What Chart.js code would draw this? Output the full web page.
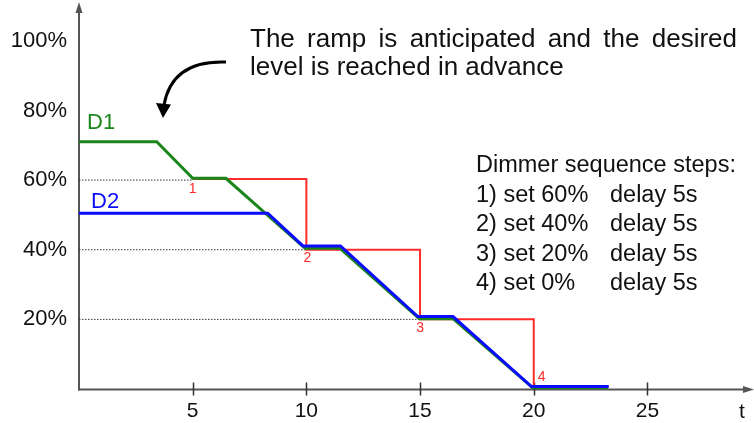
<!DOCTYPE html>
<html><head><meta charset="utf-8">
<script src="https://cdn.jsdelivr.net/npm/chart.js@4/dist/chart.umd.min.js"></script>
<style>html,body{margin:0;padding:0;background:#fff;overflow:hidden}#wrap{width:754px;height:423px}</style>
</head><body><div id="wrap"><canvas id="c" width="754" height="423"></canvas></div>
<script>
const xTickValues=[5,10,15,20,25];
const yTickValues=[20,40,60,80,100];
const d1X=[0,3.42,5,6.46,9.94,11.48,14.97,16.45,20,23.26];
const d1Y=[71,71,60.5,60.5,40.4,40.4,20.2,20.2,0.1,0.1];
const d2X=[0,8.3,9.85,11.5,14.9,16.45,19.9,23.3];
const d2Y=[50.5,50.5,41.1,41.1,20.8,20.8,0.7,0.7];
const setX=[5,10,10,15,15,20,20];
const setY=[60.3,60.3,40,40,20,20,0];
const guideLevels=[60,40,20];
const guideEnds=[5,10,15];
const stepLabels=['1','2','3','4'];
const stepX=[5,10,15,20];
const stepY=[60,40,20,0];
const seriesNames=['D1','D2'];
const noteLines=['The ramp is anticipated and the desired','level is reached in advance'];
const legendTitle='Dimmer sequence steps:';
const legendSet=['1) set 60%','2) set 40%','3) set 20%','4) set 0%'];
const legendDelay=['delay 5s','delay 5s','delay 5s','delay 5s'];
const axisLabelX='t';

const FONT='"Liberation Sans", Arial, sans-serif';
const GREEN='#1a861a', BLUE='#0b0bff', RED='#ff2a2a', AX='#555';
const pts=(xs,ys)=>xs.map((x,i)=>({x,y:ys[i]}));

const datasets=[
 {label:seriesNames[1],data:pts(d2X,d2Y),borderColor:BLUE,borderWidth:3},
 {label:seriesNames[0],data:pts(d1X,d1Y),borderColor:GREEN,borderWidth:3},
 {label:'setpoint',data:pts(setX,setY),borderColor:RED,borderWidth:2}
];
guideLevels.forEach((lv,i)=>datasets.push({label:'g'+lv,data:[{x:0,y:lv},{x:guideEnds[i],y:lv}],borderColor:'#333',borderWidth:1,borderDash:[1.5,1.5]}));
datasets.forEach(d=>{d.showLine=true;d.pointRadius=0;d.tension=0;d.fill=false;d.borderCapStyle='butt';d.borderJoinStyle='miter';});

const deco={id:'deco',
 beforeDatasetsDraw(chart){
  const {ctx,scales:{x,y}}=chart;
  const x0=x.getPixelForValue(0), y0=y.getPixelForValue(0)+0.5;
  ctx.save();
  ctx.strokeStyle=AX; ctx.fillStyle=AX; ctx.lineWidth=2;
  ctx.beginPath(); ctx.moveTo(x0,y0+1); ctx.lineTo(x0,12); ctx.stroke();
  ctx.beginPath(); ctx.moveTo(x0,2); ctx.lineTo(x0-3.5,13); ctx.lineTo(x0+3.5,13); ctx.closePath(); ctx.fill();
  ctx.beginPath(); ctx.moveTo(x0-1,y0); ctx.lineTo(744,y0); ctx.stroke();
  ctx.beginPath(); ctx.moveTo(754,y0); ctx.lineTo(743,y0-3.5); ctx.lineTo(743,y0+3.5); ctx.closePath(); ctx.fill();
  ctx.lineWidth=1.5; ctx.strokeStyle='#333';
  xTickValues.forEach(v=>{const p=Math.round(x.getPixelForValue(v))+0.5; ctx.beginPath(); ctx.moveTo(p,y0-7); ctx.lineTo(p,y0+6); ctx.stroke();});
  ctx.restore();
 },
 afterDraw(chart){
  const {ctx,scales:{x,y}}=chart;
  ctx.save();
  ctx.textBaseline='alphabetic'; ctx.textAlign='left';
  ctx.fillStyle='#111'; ctx.font='21px '+FONT; ctx.fillText(axisLabelX,739,418);
  ctx.font='22px '+FONT;
  ctx.fillStyle=GREEN; ctx.fillText(seriesNames[0],87,129);
  ctx.fillStyle=BLUE; ctx.fillText(seriesNames[1],91,208);
  ctx.font='14px '+FONT; ctx.fillStyle=RED; ctx.textAlign='center'; ctx.textBaseline='middle';
  const off=[[0,9],[1,8],[0,9],[8,-12]];
  stepLabels.forEach((s,i)=>ctx.fillText(s,x.getPixelForValue(stepX[i])+off[i][0],y.getPixelForValue(stepY[i])+off[i][1]));
  ctx.textBaseline='alphabetic'; ctx.textAlign='left'; ctx.fillStyle='#111';
  ctx.font='26px '+FONT;
  const L=250,R=737;
  const words=noteLines[0].split(' ');
  const ww=words.map(w=>ctx.measureText(w).width);
  const gap=(R-L-ww.reduce((a,b)=>a+b,0))/(words.length-1);
  let cx=L; words.forEach((w,i)=>{ctx.fillText(w,cx,47);cx+=ww[i]+gap;});
  ctx.fillText(noteLines[1],L,75);
  ctx.font='23.5px '+FONT;
  ctx.fillText(legendTitle,476,172);
  legendSet.forEach((s,i)=>{const by=201.5+i*29.5; ctx.fillText(s,476,by); ctx.fillText(legendDelay[i],610,by);});
  ctx.strokeStyle='#000'; ctx.fillStyle='#000'; ctx.lineWidth=3;
  ctx.beginPath(); ctx.moveTo(226,62); ctx.quadraticCurveTo(172,60,164,105); ctx.stroke();
  ctx.beginPath(); ctx.moveTo(163,118); ctx.lineTo(156,103); ctx.lineTo(171,104.5); ctx.closePath(); ctx.fill();
  ctx.restore();
 }
};

new Chart(document.getElementById('c'),{
 type:'scatter',
 data:{datasets},
 options:{
  responsive:false, animation:false, events:[],
  layout:{padding:{top:6,right:2,left:0,bottom:0}},
  plugins:{legend:{display:false},tooltip:{enabled:false}},
  scales:{
   x:{type:'linear',min:0,max:29.6,
      afterBuildTicks:s=>{s.ticks=xTickValues.map(v=>({value:v}));},
      afterFit:s=>{s.height=34;s.paddingLeft=0;s.paddingRight=0;},
      grid:{display:false,drawTicks:false},border:{display:false},
      ticks:{color:'#111',font:{family:FONT,size:21},padding:10,maxRotation:0,autoSkip:false}},
   y:{type:'linear',min:0,max:110,
      afterBuildTicks:s=>{s.ticks=yTickValues.map(v=>({value:v}));},
      afterFit:s=>{s.width=79;s.paddingTop=0;s.paddingBottom=0;},
      grid:{display:false,drawTicks:false},border:{display:false},
      ticks:{color:'#111',font:{family:FONT,size:22},padding:12,callback:v=>v+'%'}}
  }
 },
 plugins:[deco]
});
</script></body></html>
